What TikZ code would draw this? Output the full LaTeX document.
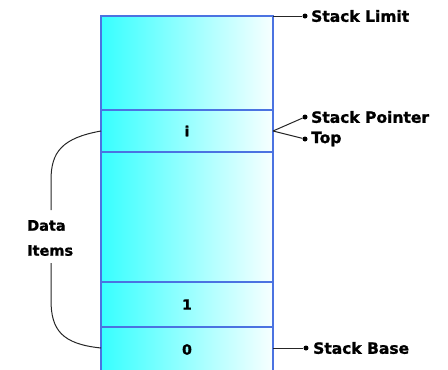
\documentclass[tikz,border=0pt]{standalone}
\usepackage{fontspec}
\setmainfont{DejaVu Sans}[BoldFeatures={FakeBold=1.2}]
\definecolor{cellline}{RGB}{75,115,225}
\definecolor{cyanl}{RGB}{55,255,255}
\definecolor{cyanr}{RGB}{248,255,255}
\begin{document}
\begin{tikzpicture}[x=1pt,y=-1pt,
  cell/.style={draw=cellline,line width=1.2pt,left color=cyanl,right color=cyanr,
    minimum width=172pt,inner sep=0pt,outer sep=0pt,font=\bfseries\fontsize{14}{16}\selectfont},
  lbl/.style={anchor=west,inner sep=0pt,font=\bfseries\fontsize{15.5}{18}\selectfont},
  conn/.style={draw=black!85,line width=1pt},
  dot/.style={circle,fill=black,inner sep=0pt,minimum size=5pt}]
\useasboundingbox (0,0) rectangle (448,370);
\begin{scope}
\clip (0,0) rectangle (448,370);
\node[cell,minimum height=94pt] (c5) at (187,63) {};
\node[cell,minimum height=42pt] (ci) at (187,131) {i};
\node[cell,minimum height=130pt] (c4) at (187,217) {};
\node[cell,minimum height=45pt] (c1) at (187,304.5) {1};
\node[cell,minimum height=45pt] (c0) at (187,349.5) {0};
\end{scope}
% labels
\node[dot] (dlim) at (305,16) {};
\node[lbl] (lim) at (311,16) {Stack Limit};
\node[dot] (dsp) at (305,117) {};
\node[lbl] (sp) at (311,117) {Stack Pointer};
\node[dot] (dtop) at (305,139) {};
\node[lbl] (top) at (311,139) {Top};
\node[dot] (dbase) at (306,348) {};
\node[lbl] (base) at (313,348) {Stack Base};
\draw[conn] (c5.north east) -- (dlim);
\draw[conn] (ci.east) -- (dsp);
\draw[conn] (ci.east) -- (dtop);
\draw[conn] (c0.east |- dbase) -- (dbase);
% data items
\node[font=\bfseries\fontsize{14.5}{25}\selectfont,align=left,inner sep=0pt,anchor=west] (data) at (27,238) {Data\\Items};
\coordinate (ua) at (51,210);
\coordinate (lb) at (51,263);
\draw[conn] (ci.west) .. controls (62,138) and (51,152) .. (51,180) -- (ua);
\draw[conn] (lb) -- (51,300) .. controls (51,330) and (62,344) .. (c0.west |- dbase);
\end{tikzpicture}
\end{document}
